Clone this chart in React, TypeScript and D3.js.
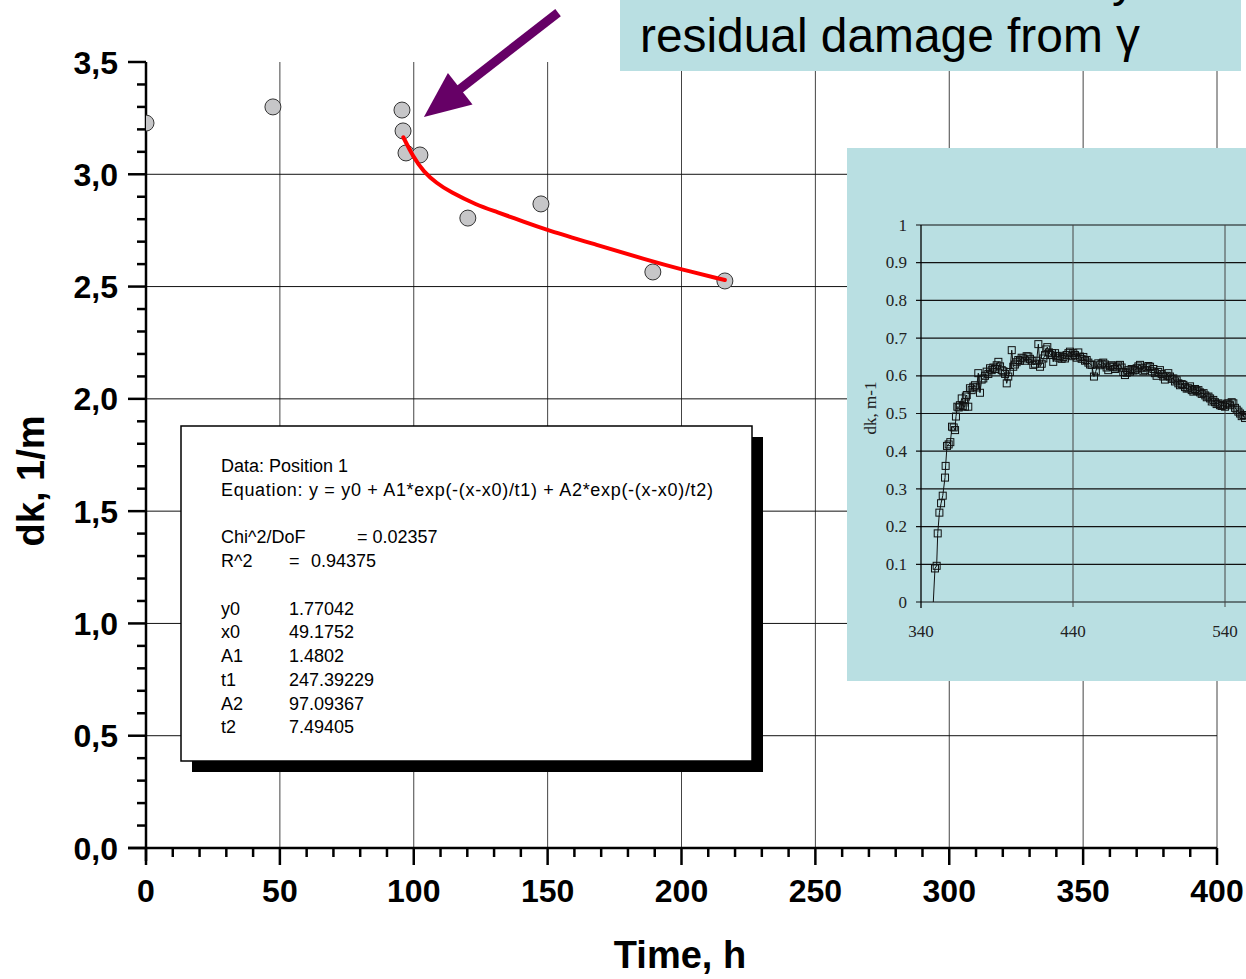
import React from "react";
import * as d3 from "d3";

// ---- Main chart data ----
const X_TICKS = [0, 50, 100, 150, 200, 250, 300, 350, 400];
const Y_TICKS = [0, 0.5, 1.0, 1.5, 2.0, 2.5, 3.0, 3.5];
const Y_TICK_LABELS = ["0,0", "0,5", "1,0", "1,5", "2,0", "2,5", "3,0", "3,5"];

const pointTime = [0, 47.4, 95.6, 96.0, 97.1, 102.3, 120.2, 147.5, 189.3, 216.2];
const pointDk = [3.228, 3.30, 3.286, 3.193, 3.095, 3.086, 2.805, 2.868, 2.565, 2.525];

const fitTime = [96.1, 99.8, 103.6, 108.6, 113.5, 123.5, 131.0, 140.9, 149.7, 168.3, 187.0, 199.4, 216.2];
const fitDk = [3.165, 3.078, 3.012, 2.960, 2.922, 2.863, 2.833, 2.789, 2.752, 2.686, 2.619, 2.578, 2.529];

const legendLines = [
  ["Data: Position 1", "", ""],
  ["Equation: y = y0 + A1*exp(-(x-x0)/t1) + A2*exp(-(x-x0)/t2)", "", ""],
  ["", "", ""],
  ["Chi^2/DoF", "", "= 0.02357"],
  ["R^2", "=", "0.94375"],
  ["", "", ""],
  ["y0", "1.77042", ""],
  ["x0", "49.1752", ""],
  ["A1", "1.4802", ""],
  ["t1", "247.39229", ""],
  ["A2", "97.09367", ""],
  ["t2", "7.49405", ""],
];

// ---- Inset data ----
const INSET_X_TICKS = [340, 440, 540];
const INSET_Y_TICKS = [0, 0.1, 0.2, 0.3, 0.4, 0.5, 0.6, 0.7, 0.8, 0.9, 1];
const INSET_Y_LABELS = ["0", "0.1", "0.2", "0.3", "0.4", "0.5", "0.6", "0.7", "0.8", "0.9", "1"];

const insetX = [
  348.1, 349.2, 350.3, 351.0, 352.1, 353.2, 354.3, 355.8, 356.2, 357.1, 358.2, 359.3, 360.4, 361.5, 362.4, 363.0,
  363.9, 364.8, 365.6, 366.8, 367.5, 368.9, 369.5, 370.1, 371.1, 372.2, 373.3, 374.4, 375.5, 376.6, 377.7, 378.8,
  379.9, 381.0, 382.1, 383.2, 384.3, 385.4, 386.5, 387.6, 388.7, 389.8, 390.9, 392.0, 393.1, 394.2, 395.3, 396.4,
  397.4, 398.5, 399.7, 400.7, 401.8, 402.9, 404.0, 405.1, 406.2, 407.3, 408.4, 409.5, 410.6, 411.7, 412.8, 413.9,
  415.0, 416.1, 417.2, 418.3, 419.4, 420.5, 421.6, 422.4, 423.1, 424.2, 425.3, 426.2, 427.0, 428.2, 429.3, 430.4,
  431.4, 432.5, 433.6, 434.7, 435.8, 437.0, 438.0, 439.1, 440.2, 441.3, 442.4, 443.5, 444.6, 445.7, 446.8, 447.9,
  449.0, 450.1, 451.2, 452.3, 453.8, 455.0, 456.6, 457.7, 458.8, 459.9, 461.0, 462.1, 463.2, 464.3, 465.4, 466.5,
  467.6, 468.7, 469.8, 470.9, 472.0, 473.1, 474.2, 475.3, 476.4, 477.5, 478.6, 479.7, 480.8, 481.9, 483.0, 484.1,
  485.2, 486.3, 487.4, 488.5, 489.6, 490.7, 491.8, 492.9, 493.9, 495.0, 496.1, 497.2, 498.3, 499.4, 500.5, 501.6,
  502.7, 503.8, 504.9, 506.0, 507.1, 508.2, 509.3, 510.4, 511.5, 512.6, 513.7, 514.8, 515.9, 517.0, 518.1, 519.2,
  520.3, 521.4, 522.5, 523.6, 524.7, 525.9, 527.0, 528.0, 529.1, 530.2, 531.3, 532.3, 533.4, 534.5, 535.6, 536.7,
  537.8, 538.9, 540.0, 541.1, 542.2, 543.3, 544.4, 545.5, 546.6, 547.7, 548.8, 549.9, 551.0, 552.1, 553.2,
];
const insetY = [
  0.0, 0.089, 0.096, 0.182, 0.237, 0.262, 0.282, 0.330, 0.361, 0.414, 0.418, 0.424, 0.465, 0.463, 0.456, 0.492,
  0.518, 0.516, 0.522, 0.540, 0.520, 0.518, 0.545, 0.549, 0.518, 0.567, 0.562, 0.571, 0.575, 0.569, 0.607, 0.555,
  0.590, 0.593, 0.600, 0.611, 0.605, 0.620, 0.615, 0.622, 0.618, 0.628, 0.637, 0.625, 0.615, 0.612, 0.605, 0.580,
  0.598, 0.610, 0.668, 0.624, 0.630, 0.636, 0.642, 0.640, 0.648, 0.646, 0.640, 0.652, 0.651, 0.645, 0.640, 0.629,
  0.632, 0.640, 0.684, 0.624, 0.632, 0.646, 0.655, 0.670, 0.676, 0.662, 0.655, 0.660, 0.637, 0.660, 0.652, 0.648,
  0.653, 0.645, 0.650, 0.646, 0.655, 0.660, 0.664, 0.652, 0.660, 0.655, 0.648, 0.662, 0.651, 0.645, 0.650, 0.640,
  0.642, 0.635, 0.630, 0.629, 0.598, 0.612, 0.633, 0.628, 0.632, 0.635, 0.630, 0.622, 0.615, 0.625, 0.628, 0.624,
  0.618, 0.622, 0.627, 0.629, 0.622, 0.610, 0.602, 0.608, 0.615, 0.611, 0.618, 0.614, 0.615, 0.620, 0.625, 0.629,
  0.620, 0.612, 0.615, 0.622, 0.626, 0.624, 0.612, 0.618, 0.607, 0.600, 0.610, 0.615, 0.605, 0.598, 0.590, 0.600,
  0.607, 0.598, 0.592, 0.593, 0.585, 0.588, 0.580, 0.575, 0.578, 0.576, 0.570, 0.566, 0.567, 0.572, 0.562, 0.558,
  0.565, 0.560, 0.562, 0.556, 0.552, 0.554, 0.548, 0.543, 0.545, 0.540, 0.532, 0.536, 0.530, 0.525, 0.527, 0.522,
  0.520, 0.523, 0.518, 0.526, 0.527, 0.522, 0.530, 0.527, 0.515, 0.510, 0.505, 0.500, 0.493, 0.496, 0.488,
];

const W = 1246;
const H = 979;
const SANS = "'Liberation Sans', Arial, Helvetica, sans-serif";
const SERIF = "'Liberation Serif', 'Times New Roman', serif";
const INSET_BG = "#b9dfe2";

export default function App() {
  const x = d3.scaleLinear().domain([0, 400]).range([146, 1217]);
  const y = d3.scaleLinear().domain([0, 3.5]).range([848, 62]);

  const xi = d3.scaleLinear().domain([340, 540]).range([921, 1225]);
  const yi = d3.scaleLinear().domain([0, 1]).range([602, 225]);

  const fitLine = d3
    .line<number>()
    .x((_, i) => x(fitTime[i]))
    .y((d) => y(d))
    .curve(d3.curveBasis)(fitDk) as string;

  const insetLine = d3
    .line<number>()
    .x((_, i) => xi(insetX[i]))
    .y((d) => yi(d))(insetY) as string;

  const minorX = d3.range(0, 401, 10).filter((v) => v % 50 !== 0);
  const minorY = d3.range(1, 35).map((v) => v / 10).filter((v) => Math.round(v * 10) % 5 !== 0);

  // arrow (annotation) in data coordinates
  const tail = [x(153.9), y(3.72)];
  const tip = [x(103.8), y(3.255)];
  const ang = Math.atan2(tip[1] - tail[1], tip[0] - tail[0]);
  const headLen = 46;
  const headHalf = 20;
  const base = [tip[0] - headLen * Math.cos(ang), tip[1] - headLen * Math.sin(ang)];
  const perp = [-Math.sin(ang), Math.cos(ang)];
  const shaftEnd = [tip[0] - (headLen - 4) * Math.cos(ang), tip[1] - (headLen - 4) * Math.sin(ang)];
  const headPath = `M${tip[0]},${tip[1]} L${base[0] + perp[0] * headHalf},${base[1] + perp[1] * headHalf} L${base[0] - perp[0] * headHalf},${base[1] - perp[1] * headHalf} Z`;

  const legendX = 181;
  const legendY = 426;
  const legendW = 571;
  const legendH = 335;
  const legendBaselines = [472, 496, 520, 543, 567, 591, 615, 638, 662, 686, 710, 733];

  return (
    <svg
      width={W}
      height={H}
      viewBox={`0 0 ${W} ${H}`}
      style={{ position: "absolute", left: 0, top: 0, display: "block", background: "#fff" }}
    >
      <defs>
        <clipPath id="plotClip">
          <rect x={146} y={40} width={1100} height={808} />
        </clipPath>
        <clipPath id="insetClip">
          <rect x={847} y={148} width={399} height={533} />
        </clipPath>
      </defs>

      {/* gridlines */}
      <g>
        {X_TICKS.filter((v) => v > 0).map((v) => (
          <line key={"gx" + v} x1={x(v)} x2={x(v)} y1={y(3.5)} y2={y(0)} stroke="#444" strokeWidth={1} />
        ))}
        {Y_TICKS.filter((v) => v > 0 && v < 3.5).map((v) => (
          <line key={"gy" + v} x1={x(0)} x2={x(400)} y1={y(v)} y2={y(v)} stroke="#111" strokeWidth={1} />
        ))}
      </g>

      {/* axes */}
      <g stroke="#000" strokeWidth={2.5}>
        <line x1={128} x2={x(400)} y1={y(0)} y2={y(0)} />
        <line x1={x(0)} x2={x(0)} y1={y(3.5)} y2={861} />
        {X_TICKS.map((v) => (
          <line key={"tx" + v} x1={x(v)} x2={x(v)} y1={y(0)} y2={y(0) + 17} />
        ))}
        {minorX.map((v) => (
          <line key={"mx" + v} x1={x(v)} x2={x(v)} y1={y(0)} y2={y(0) + 9} />
        ))}
        {Y_TICKS.map((v) => (
          <line key={"ty" + v} x1={x(0) - 18} x2={x(0)} y1={y(v)} y2={y(v)} />
        ))}
        {minorY.map((v) => (
          <line key={"my" + v} x1={x(0) - 9} x2={x(0)} y1={y(v)} y2={y(v)} />
        ))}
      </g>

      {/* tick labels */}
      <g fontFamily={SANS} fontWeight="bold" fontSize={32} fill="#000">
        {X_TICKS.map((v) => (
          <text key={"lx" + v} x={x(v)} y={902} textAnchor="middle">
            {v}
          </text>
        ))}
        {Y_TICKS.map((v, i) => (
          <text key={"ly" + v} x={118} y={y(v)} dy="0.36em" textAnchor="end">
            {Y_TICK_LABELS[i]}
          </text>
        ))}
      </g>

      {/* axis titles */}
      <text x={680} y={968} textAnchor="middle" fontFamily={SANS} fontWeight="bold" fontSize={38}>
        Time, h
      </text>
      <text
        transform={`translate(44,481) rotate(-90)`}
        textAnchor="middle"
        fontFamily={SANS}
        fontWeight="bold"
        fontSize={38}
      >
        dk, 1/m
      </text>

      {/* data */}
      <g clipPath="url(#plotClip)">
        {pointTime.map((t, i) => (
          <circle key={"p" + i} cx={x(t)} cy={y(pointDk[i])} r={8} fill="#c6c6c8" stroke="#333" strokeWidth={1} />
        ))}
        <path d={fitLine} fill="none" stroke="#ff0000" strokeWidth={4} strokeLinecap="round" />
      </g>

      {/* legend box */}
      <rect x={legendX + 11} y={legendY + 11} width={legendW} height={legendH} fill="#000" />
      <rect x={legendX} y={legendY} width={legendW} height={legendH} fill="#fff" stroke="#000" strokeWidth={1.5} />
      <g fontFamily={SANS} fontSize={18} fill="#000">
        {legendLines.map((row, i) => (
          <g key={"lg" + i}>
            {row[0] && (
              <text
                x={221}
                y={legendBaselines[i]}
                {...(i === 1 ? { textLength: 492, lengthAdjust: "spacing" } : {})}
              >
                {row[0]}
              </text>
            )}
            {row[1] && (
              <text x={289} y={legendBaselines[i]}>
                {row[1]}
              </text>
            )}
            {row[2] && (
              <text x={i === 4 ? 311 : 357} y={legendBaselines[i]}>
                {row[2]}
              </text>
            )}
          </g>
        ))}
      </g>

      {/* inset */}
      <rect x={847} y={148} width={399} height={533} fill={INSET_BG} />
      <g>
        {INSET_Y_TICKS.map((v) => (
          <line key={"igy" + v} x1={xi(340) - 5} x2={W} y1={yi(v)} y2={yi(v)} stroke="#111" strokeWidth={1.2} />
        ))}
        {INSET_X_TICKS.filter((v) => v > 340).map((v) => (
          <line key={"igx" + v} x1={xi(v)} x2={xi(v)} y1={yi(1)} y2={yi(0) + 5} stroke="#444" strokeWidth={1} />
        ))}
        <line x1={xi(340)} x2={xi(340)} y1={yi(1)} y2={yi(0) + 6} stroke="#000" strokeWidth={1.3} />
      </g>
      <g fontFamily={SERIF} fontSize={17} fill="#222">
        {INSET_Y_TICKS.map((v, i) => (
          <text key={"ily" + v} x={907} y={yi(v)} dy="0.33em" textAnchor="end">
            {INSET_Y_LABELS[i]}
          </text>
        ))}
        {INSET_X_TICKS.map((v) => (
          <text key={"ilx" + v} x={xi(v)} y={637} textAnchor="middle">
            {v}
          </text>
        ))}
        <text transform="translate(876,408) rotate(-90)" textAnchor="middle">
          dk, m-1
        </text>
      </g>
      <g clipPath="url(#insetClip)">
        <path d={insetLine} fill="none" stroke="#111" strokeWidth={1} />
        {insetY.map((v, i) =>
          v > 0 ? (
            <rect
              key={"iq" + i}
              x={xi(insetX[i]) - 3.5}
              y={yi(v) - 3.5}
              width={7}
              height={7}
              fill="none"
              stroke="#111"
              strokeWidth={1}
            />
          ) : null
        )}
      </g>

      {/* title box */}
      <rect x={620} y={0} width={621} height={71} fill={INSET_BG} />
      <text x={1112} y={-4} fontFamily={SANS} fontSize={48} fill="#000">
        y
      </text>
      <text x={640} y={52} fontFamily={SANS} fontSize={48} textLength={500} lengthAdjust="spacingAndGlyphs" fill="#000">
        residual damage from γ
      </text>

      {/* arrow */}
      <line
        x1={tail[0]}
        y1={tail[1]}
        x2={shaftEnd[0]}
        y2={shaftEnd[1]}
        stroke="#660066"
        strokeWidth={9}
      />
      <path d={headPath} fill="#660066" />
    </svg>
  );
}
